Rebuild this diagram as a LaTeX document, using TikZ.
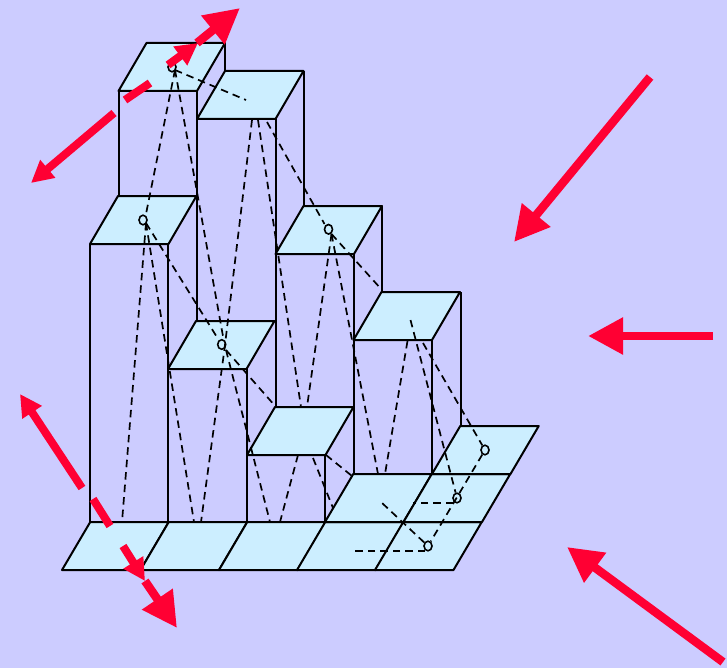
\documentclass[tikz,border=0pt]{standalone}
\usetikzlibrary{arrows.meta,shapes.geometric}
\definecolor{bgc}{HTML}{CCCCFF}
\definecolor{facec}{HTML}{CCEEFF}
\definecolor{redc}{HTML}{FF0033}
\tikzset{
  face/.style={fill=facec,draw=black,line width=2bp,line join=round},
  edge/.style={draw=black,line width=2bp},
  ray/.style={draw=black,line width=1.7bp,dash pattern=on 7.5bp off 5bp},
  ringnode/.style={ellipse,draw=black,line width=1.6bp,inner sep=0pt,minimum width=8bp,minimum height=9.6bp},
  bigarrow/.style={draw=redc,line width=8.5bp,-{Stealth[length=35bp,width=35bp,inset=0bp]}},
  smallarrow/.style={draw=redc,line width=8bp,-{Stealth[length=22bp,width=22bp,inset=0bp]}},
  redseg/.style={draw=redc,line width=8bp},
}
\begin{document}
\begin{tikzpicture}[x=1bp,y=-1bp]
\path[fill=bgc] (0,0) rectangle (727,668);
\useasboundingbox (0,0) rectangle (727,668);
% vertical edges
\foreach \x/\a/\b in {90/244/522,118.5/91/196,168/244/522,197/91/321,225/43/71,247/369/522,275.5/119/407,304/71/206,325/455/522,353.5/254/474,382/206/292,432/340/474,460.5/292/426}
  \draw[edge] (\x,\a) -- (\x,\b);
% floor
\foreach \x in {62,140.5,219,297,375}
  \draw[face] (\x,570) -- ++(78.5,0) -- ++(28.25,-48) -- ++(-78.5,0) -- cycle;
\foreach \x in {325,403.5}
  \draw[face] (\x,522) -- ++(78.5,0) -- ++(28.25,-48) -- ++(-78.5,0) -- cycle;
\draw[face] (432,474) -- ++(78.5,0) -- ++(28.25,-48) -- ++(-78.5,0) -- cycle;
% tops
\foreach \x/\y in {118.5/91,197/119,90/244,275.5/254,353.5/340,168/369,247/455}
  \draw[face] (\x,\y) -- ++(78.5,0) -- ++(28,-48) -- ++(-78.5,0) -- cycle;
% rings
\node[ringnode] (r1) at (172,67) {};
\node[ringnode] (r2) at (143,220) {};
\node[ringnode] (r3) at (221.7,344.5) {};
\node[ringnode] (r4) at (328.5,229.3) {};
\node[ringnode] (r5) at (485,450) {};
\node[ringnode] (r6) at (457,498) {};
\node[ringnode] (r7) at (428,546) {};
% free ends of rays
\foreach \n/\p in {a/{246,100},b/{122,522},c/{194,522},d/{270,522},e/{276,407},f/{252,120},g/{201,522},h/{258,120},i/{301,407},j/{267,122},k/{382,290},l/{307,407},m/{378,474},n/{298,455},o/{280,522},p/{313,458},q/{333,508},s/{326,455},t/{352,476},u/{407.5,341},v/{385,474},w/{410.5,320},x/{423,343},y/{413,503},z/{353,551},A/{381.5,502.5}}
  \coordinate (\n) at (\p);
\coordinate (r1s) at (175,70);
\coordinate (r2s) at (146,223);
\coordinate (r3s) at (226,350);
\coordinate (r3t) at (223.5,339);
\coordinate (r3l) at (217.5,338);
\coordinate (r3r) at (224.5,349);
\coordinate (r4s) at (331.5,234);
\coordinate (r4l) at (324.5,224);
\coordinate (r2t) at (146,214);
\coordinate (r6s) at (453,503);
\coordinate (r7s) at (425,551);
\draw[ray] (r1s) -- (a);
\draw[ray] (r1s) -- (r2t);
\draw[ray] (r1s) -- (r3t);
\draw[ray] (r3s) -- (d);
\draw[ray] (r2s) -- (b);
\draw[ray] (r2s) -- (c);
\draw[ray] (r2s) -- (r3l);
\draw[ray] (r3s) -- (e);
\draw[ray] (f) -- (r3r) -- (g);
\draw[ray] (h) -- (i);
\draw[ray] (j) -- (r4l);
\draw[ray] (r4s) -- (k);
\draw[ray] (r4s) -- (l);
\draw[ray] (r4s) -- (m);
\draw[ray] (n) -- (o);
\draw[ray] (p) -- (q);
\draw[ray] (s) -- (t);
\draw[ray] (u) -- (v);
\draw[ray] (w) -- (r6);
\draw[ray] (x) -- (r5);
\draw[ray] (r5) -- (r7);
\draw[ray] (r6s) -- (y);
\draw[ray] (r7s) -- (z);
\draw[ray] (r7) -- (A);
% red arrows
\coordinate (a1s) at (650,77); \coordinate (a1e) at (514,242);
\coordinate (a2s) at (713,336); \coordinate (a2e) at (588,336);
\coordinate (a3s) at (723,662); \coordinate (a3e) at (567,547);
\draw[bigarrow] (a1s) -- (a1e);
\draw[bigarrow] (a2s) -- (a2e);
\draw[bigarrow] (a3s) -- (a3e);
\coordinate (b1s) at (114,113); \coordinate (b1e) at (31,183);
\coordinate (b2s) at (125,100); \coordinate (b2e) at (150,83);
\coordinate (b3s) at (168,65); \coordinate (b3e) at (198,43);
\coordinate (b4s) at (197,43); \coordinate (b4e) at (240,8);
\draw[smallarrow] (b1s) -- (b1e);
\draw[redseg] (b2s) -- (b2e);
\draw[smallarrow] (b3s) -- (b3e);
\draw[bigarrow] (b4s) -- (b4e);
\coordinate (c1s) at (82,488); \coordinate (c1e) at (20,394);
\coordinate (c2s) at (93,499); \coordinate (c2e) at (110,526);
\coordinate (c3s) at (123,546); \coordinate (c3e) at (145,581);
\coordinate (c4s) at (145,581); \coordinate (c4e) at (177,628);
\draw[smallarrow] (c1s) -- (c1e);
\draw[redseg] (c2s) -- (c2e);
\draw[smallarrow] (c3s) -- (c3e);
\draw[bigarrow] (c4s) -- (c4e);
\end{tikzpicture}
\end{document}
